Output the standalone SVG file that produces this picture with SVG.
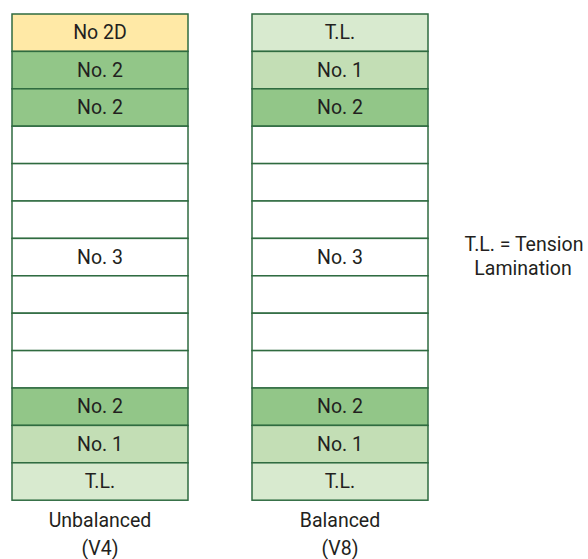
<svg xmlns="http://www.w3.org/2000/svg" width="588" height="559" viewBox="0 0 588 559">
<style>
rect{stroke:#2f6b40;stroke-width:1.5}
.w{fill:#ffffff}.y{fill:#ffe9a6}.g{fill:#92c688}.l{fill:#c3deb5}.t{fill:#d8eacf}
text{font-family:Roboto,"Liberation Sans",sans-serif;font-size:19.5px;fill:#231f20;text-anchor:middle;dominant-baseline:central}
</style>
<rect x="0" y="0" width="588" height="559" fill="#fff" style="stroke:none"/>
<g id="unbalanced">
<rect class="y" x="12" y="14" width="176" height="37.4"/><text x="100" y="32.7">No 2D</text>
<rect class="g" x="12" y="51.4" width="176" height="37.4"/><text x="100" y="70.1">No. 2</text>
<rect class="g" x="12" y="88.8" width="176" height="37.4"/><text x="100" y="107.5">No. 2</text>
<rect class="w" x="12" y="126.2" width="176" height="37.4"/>
<rect class="w" x="12" y="163.6" width="176" height="37.4"/>
<rect class="w" x="12" y="201" width="176" height="37.4"/>
<rect class="w" x="12" y="238.4" width="176" height="37.4"/><text x="100" y="257.1">No. 3</text>
<rect class="w" x="12" y="275.8" width="176" height="37.4"/>
<rect class="w" x="12" y="313.2" width="176" height="37.4"/>
<rect class="w" x="12" y="350.6" width="176" height="37.4"/>
<rect class="g" x="12" y="388" width="176" height="37.4"/><text x="100" y="406.7">No. 2</text>
<rect class="l" x="12" y="425.4" width="176" height="37.4"/><text x="100" y="444.1">No. 1</text>
<rect class="t" x="12" y="462.8" width="176" height="37.4"/><text x="100" y="481.5">T.L.</text>
<text x="100" y="520">Unbalanced</text>
<text x="100" y="548">(V4)</text>
</g>
<g id="balanced">
<rect class="t" x="252" y="14" width="176" height="37.4"/><text x="340" y="32.7">T.L.</text>
<rect class="l" x="252" y="51.4" width="176" height="37.4"/><text x="340" y="70.1">No. 1</text>
<rect class="g" x="252" y="88.8" width="176" height="37.4"/><text x="340" y="107.5">No. 2</text>
<rect class="w" x="252" y="126.2" width="176" height="37.4"/>
<rect class="w" x="252" y="163.6" width="176" height="37.4"/>
<rect class="w" x="252" y="201" width="176" height="37.4"/>
<rect class="w" x="252" y="238.4" width="176" height="37.4"/><text x="340" y="257.1">No. 3</text>
<rect class="w" x="252" y="275.8" width="176" height="37.4"/>
<rect class="w" x="252" y="313.2" width="176" height="37.4"/>
<rect class="w" x="252" y="350.6" width="176" height="37.4"/>
<rect class="g" x="252" y="388" width="176" height="37.4"/><text x="340" y="406.7">No. 2</text>
<rect class="l" x="252" y="425.4" width="176" height="37.4"/><text x="340" y="444.1">No. 1</text>
<rect class="t" x="252" y="462.8" width="176" height="37.4"/><text x="340" y="481.5">T.L.</text>
<text x="340" y="520">Balanced</text>
<text x="340" y="548">(V8)</text>
</g>
<g id="legend">
<text x="524" y="244">T.L. = Tension</text>
<text x="523" y="268">Lamination</text>
</g>
<g id="connectors"/>
</svg>
